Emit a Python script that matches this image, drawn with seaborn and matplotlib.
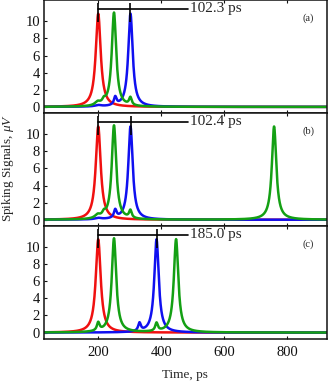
import numpy as np
import pandas as pd
import seaborn as sns
import matplotlib.pyplot as plt

# spikes: (time ps, height uV, half width ps)
a_red = [(200, 10.9, 9.5)]
a_green = [(250, 11.0, 8.5), (198, 0.4, 10), (218, 0.45, 6), (302, 0.9, 5)]
a_blue = [(302.3, 10.9, 8.5), (254, 0.95, 5), (200, 0.15, 12)]

b_red = [(200, 10.9, 9.5)]
b_green = [(250, 11.0, 8.5), (198, 0.4, 10), (218, 0.45, 6), (302, 0.9, 5), (758, 10.9, 8.5)]
b_blue = [(302.4, 10.9, 8.5), (254, 0.95, 5), (200, 0.15, 12)]

c_red = [(200, 10.9, 9.5)]
c_green = [(250, 11.0, 8.5), (200, 0.95, 5), (385, 0.95, 5), (447, 10.9, 8.5)]
c_blue = [(385.0, 10.9, 8.5), (331, 0.95, 5)]

delays = ['102.3 ps', '102.4 ps', '185.0 ps']
panel_tags = ['(a)', '(b)', '(c)']
xticks_ab = [218, 420, 622, 825]
xticks_c = [200, 400, 600, 800]
yticks = [0, 2, 4, 6, 8, 10]

t = np.arange(28, 926.5, 0.5)


def signal(spikes):
    s = np.zeros_like(t)
    for t0, h, w in spikes:
        s += h / (1 + ((t - t0) / w) ** 2)
    return s


sns.set_style("ticks")
plt.rcParams['font.family'] = ['Liberation Serif', 'DejaVu Serif']
plt.rcParams['mathtext.fontset'] = 'custom'
plt.rcParams['mathtext.rm'] = 'Liberation Serif'
plt.rcParams['mathtext.it'] = 'Liberation Serif:italic'

fig, axes = plt.subplots(3, 1, figsize=(3.31, 3.86), dpi=100, sharex=True)
fig.subplots_adjust(left=0.133, right=0.988, top=0.999, bottom=0.122, hspace=0)

panels = [(a_red, a_green, a_blue), (b_red, b_green, b_blue), (c_red, c_green, c_blue)]
for i, (ax, (red, green, blue)) in enumerate(zip(axes, panels)):
    df = pd.DataFrame({'t': t, 'red': signal(red), 'green': signal(green), 'blue': signal(blue)})
    sns.lineplot(data=df, x='t', y='red', color='#f01010', lw=1.8, ax=ax)
    sns.lineplot(data=df, x='t', y='blue', color='#1010f0', lw=1.8, ax=ax)
    sns.lineplot(data=df, x='t', y='green', color='#14a014', lw=1.8, ax=ax)

    # delay marker between first red spike and the blue spike
    t1 = red[0][0]
    t2 = blue[0][0]
    ax.vlines([t1, t2], 9.9, 12.1, color='k', lw=1.2)
    ax.plot([t1, 485], [11.4, 11.4], color='k', lw=1.2)
    ax.text(490, 11.5, delays[i], va='center', ha='left', fontsize=11)
    ax.text(0.933, 0.84, panel_tags[i], transform=ax.transAxes,
            ha='center', va='center', fontsize=7.5)

    ax.set_xlim(28, 926)
    ax.set_ylim(-0.74, 12.45)
    ax.set_yticks(yticks)
    ax.set_xlabel('')
    ax.set_ylabel('')
    for sp in ax.spines.values():
        sp.set_visible(True)
        sp.set_linewidth(1.1)
        sp.set_color('#111111')
    ax.tick_params(axis='both', direction='in', length=2.5, width=0.8,
                   labelsize=10.5, colors='#111111')
    ax.tick_params(axis='x', top=True, pad=5)
    ax.tick_params(axis='y', pad=3)

for ax in axes[:2]:
    ax.set_xticks(xticks_ab)
    ax.tick_params(axis='x', labelbottom=False)
axes[2].set_xticks(xticks_c)
axes[2].set_xticklabels([str(v) for v in xticks_c])

fig.text(0.024, 0.565, 'Spiking Signals, $\\mu V$', rotation=90,
         ha='center', va='center', fontsize=9.5)
fig.text(0.56, 0.028, 'Time, ps', ha='center', va='center', fontsize=9.5)

fig.savefig('out.png', dpi=100)
